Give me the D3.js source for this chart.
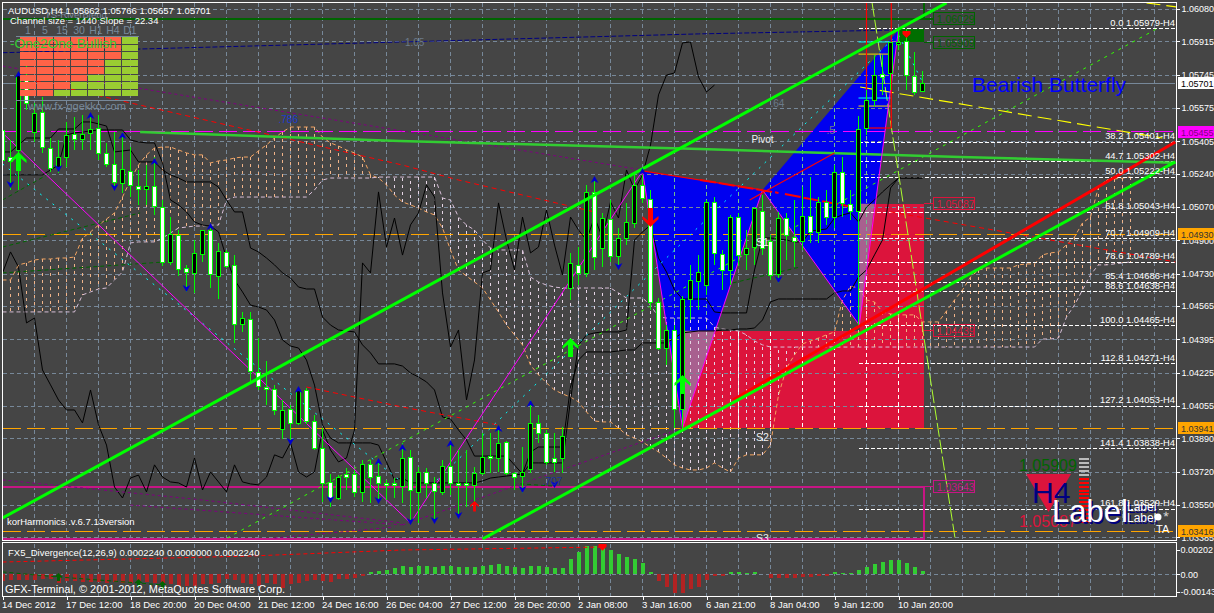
<!DOCTYPE html>
<html><head><meta charset="utf-8">
<script src="https://cdnjs.cloudflare.com/ajax/libs/d3/7.8.5/d3.min.js"></script>
<style>html,body{margin:0;padding:0;background:#454545;overflow:hidden}svg{display:block}text{font-family:"Liberation Sans",Arial,sans-serif}</style>
</head><body><svg id="c" width="1214" height="613"></svg>
<script>
// All prices below are in points above 1.00000 (5443 = 1.05443).
const opens=[5463,5325,5361,5718,5453,5555,5371,5274,5325,5443,5417,5448,5473,5346,5290,5193,5254,5177,5162,5177,5070,4790,4928,4759,4734,4831,4953,4718,4841,4775,4474,4499,4229,4152,4142,3938,4040,3969,4137,3979,3841,3668,3586,3709,3709,3617,3760,3698,3663,3663,3647,3795,3617,3719,3663,3617,3749,3663,3663,3653,3714,3800,3790,3872,3714,3698,3734,3969,3918,3790,3790,4657,4775,4734,5147,4861,5009,4820,4912,4989,5183,5111,4586,4351,4443,4040,4601,4693,4672,5096,4831,4749,5019,4831,4866,5050,4897,4729,5014,4917,4897,5024,4943,5096,5019,5249,5086,5050,5473,5616,5749,5754,5902,5917,5738,5662];
const highs=[5565,5412,5743,5794,5601,5631,5422,5412,5504,5529,5540,5540,5540,5397,5453,5453,5376,5259,5284,5325,5106,5019,4953,4775,4902,4953,4963,4887,4851,4826,4535,4535,4402,4285,4162,4086,4061,4152,4147,4010,3943,3709,3703,3739,3729,3780,3780,3780,3678,3688,3867,3831,3744,3739,3693,3780,3867,3831,3831,3744,3918,3918,3943,3877,3719,3846,4086,4010,3933,3918,3948,4836,4866,5183,5208,5040,5106,4963,5091,5234,5234,5157,4606,4468,4468,4616,4775,4826,5106,5121,4851,5030,5040,4953,5070,5131,4928,5045,5040,5106,5172,5223,5121,5157,5284,5325,5157,5534,5667,5845,5845,5912,5979,5979,5861,5766];
const lows=[5234,5157,5157,5565,5402,5346,5249,5244,5274,5361,5361,5361,5310,5274,5157,5142,5121,5081,5081,5030,4769,4775,4718,4637,4632,4790,4657,4601,4759,4377,4433,4173,4137,4061,4010,3887,3867,3959,3964,3831,3566,3540,3576,3627,3591,3566,3561,3561,3576,3586,3561,3454,3459,3586,3459,3601,3601,3489,3540,3561,3703,3714,3719,3703,3627,3612,3714,3867,3755,3719,3714,4596,4672,4713,4749,4764,4790,4759,4877,4963,5091,4545,4341,4264,3943,3943,4494,4545,4622,4775,4647,4672,4769,4749,4775,4826,4698,4683,4800,4764,4851,4887,4887,4979,4963,5019,5004,4468,5438,5580,5641,5667,5871,5667,5641,5657];
const closes=[5310,5305,5743,5601,5550,5376,5269,5325,5438,5417,5443,5468,5346,5290,5198,5264,5183,5162,5177,5075,4790,4933,4754,4739,4836,4953,4729,4846,4769,4474,4504,4234,4157,4142,4035,4035,3969,4137,3979,3841,3663,3586,3693,3693,3617,3760,3693,3663,3653,3653,3790,3627,3719,3663,3622,3749,3663,3653,3653,3714,3795,3790,3867,3714,3693,3719,3969,3918,3770,3770,3902,4785,4734,5147,4815,5014,4820,4912,4994,5183,5116,4586,4351,4443,4040,4601,4698,4739,5096,4836,4749,5019,4826,4861,5065,4861,4724,5014,4928,4897,5024,4943,5096,5019,5249,5091,5050,5468,5616,5743,5733,5912,5912,5743,5657,5701];
const histogram=[-54,-49,-49,-49,-44,-41,-41,-68,-54,-54,-60,-65,-65,-68,-60,-68,-68,-68,-60,-68,-68,-82,-95,-95,-95,-82,-82,-68,-41,-49,-68,-82,-95,-68,-82,-109,-82,-68,-54,-49,-54,-60,-41,-41,-27,-11,16,27,38,49,68,60,71,68,60,68,71,60,60,60,68,76,87,71,60,49,68,68,60,49,49,128,185,231,231,223,196,169,141,122,95,16,-54,-101,-155,-155,-122,-101,-46,-16,-11,19,19,11,19,5,-33,-27,-27,-27,-22,-22,-14,-14,19,8,8,33,60,87,101,117,117,92,60,27];
const senkouA=[4698,4698,4775,4785,4800,4805,4805,4810,4810,4815,4912,4943,4978,5009,5040,5121,5208,5284,5336,5371,5376,5376,5361,5346,5336,5336,5295,5305,5310,5320,5325,5325,5356,5387,5422,5453,5478,5478,5478,5478,5427,5397,5381,5361,5346,5325,5234,5218,5183,5131,5096,5081,5065,5045,5030,4963,4851,4749,4718,4688,4657,4596,4535,4468,4418,4367,4264,4214,4173,4137,4117,4101,4076,4025,3979,3974,3974,3943,3908,3892,3872,3846,3821,3790,3755,3739,3729,3729,3739,3765,3739,3719,3790,3806,3806,3806,3857,4111,4249,4316,4372,4387,4402,4418,4433,4596,4667,4657,4596,4586,4535,4525,4520,4520,4520,4484,4484,4484,4540,4596,4647,4713,4749,4759,4759,4759,4759,4775,4780,4780,4826,4836,4841,4877,4917,4989,5019,5172,5208,5213,5218,5223];
const senkouB=[4535,4535,4535,4535,4535,4535,4535,4535,4535,4535,4622,4637,4652,4657,4698,4739,4887,4892,4892,4892,4912,4938,4963,4968,4973,4973,4978,4978,5106,5121,5121,5121,5121,5121,5121,5121,5121,5121,5121,5157,5208,5218,5218,5218,5218,5218,5218,5223,5223,5223,5223,5223,5223,5223,5223,5116,5106,5019,4978,4953,4902,4861,4851,4851,4851,4851,4713,4688,4672,4662,4657,4657,4657,4657,4657,4657,4657,4632,4606,4606,4606,4570,4509,4504,4504,4504,4504,4504,4504,4458,4448,4443,4438,4418,4387,4367,4356,4356,4356,4356,4356,4356,4356,4356,4356,4356,4356,4356,4356,4356,4356,4356,4356,4356,4356,4356,4356,4356,4356,4356,4356,4356,4356,4356,4356,4356,4356,4356,4356,4356,4397,4397,4402,4509,4570,4647,4724,4775,4775,4780,4785,4790];
const laggingLine=[4734,4841,4764,4479,4504,4239,4163,4086,4035,4035,3969,4137,3959,3856,3642,3586,3688,3703,3617,3755,3693,3668,3663,3642,3790,3627,3719,3668,3617,3755,3668,3658,3653,3693,3806,3790,3867,3719,3693,3719,3933,3831,3770,3790,3933,4785,4734,5147,4866,5014,4825,4979,5040,5183,5121,4632,4356,4443,4086,4290,4734,4749,5091,4902,4749,5019,4836,4866,5055,4876,4724,5019,4953,4902,5019,4912,5096,5014,5259,5157,5234,5386,5642,5743,5754,5907,5912,5733,5657,5692];
const slowLine=[5351,5351,5387,5422,5422,5422,5422,5468,5468,5468,5504,5504,5494,5483,5351,5356,5361,5300,5300,5300,5259,5234,5218,5198,5198,5198,5198,5172,5106,5045,5045,4861,4841,4810,4775,4734,4708,4662,4652,4652,4509,4468,4443,4438,4433,4367,4326,4270,4270,4270,4259,4224,4203,4178,4137,3999,3989,3933,3882,3800,3800,3800,3800,3800,3754,3709,3821,3846,3846,3846,3846,4152,4290,4331,4331,4331,4331,4336,4341,4341,4377,4377,4377,4377,4402,4428,4433,4438,4438,4438,4443,4443,4448,4448,4453,4494,4586,4601,4601,4601,4601,4601,4601,4601,4632,4642,4642,4713,4749,4826,4902,5167,5218,5218,5218,5218];
const fastLine=[5234,5234,5234,5234,5234,5234,5259,5284,5438,5448,5453,5458,5463,5463,5463,5463,5412,5402,5397,5397,5295,5106,5081,5045,4994,4978,4973,4943,4810,4698,4637,4570,4560,4545,4494,4392,4361,4351,4290,4162,3958,3892,3867,3867,3867,3867,3867,3856,3770,3678,3688,3663,3663,3663,3663,3663,3663,3663,3663,3663,3673,3688,3693,3698,3703,3709,3765,3765,3765,3765,3765,4086,4367,4418,4428,4433,4433,4433,4443,4902,4943,4978,4810,4739,4647,4601,4601,4601,4601,4535,4530,4530,4530,4530,4749,4912,4912,4907,4902,4892,4892,4948,4953,4958,5014,5030,5040,4994,5070,5106,5147,5183,5218,5218,5218,5218];
const signalLine=[[0,100],[31,149],[50,198],[75,222]];
const subGreenLine=[[0,19],[7,-22],[17,-71],[20,-87]];
const priceTicks=[6080,5915,5745,5575,5405,5240,5070,4900,4730,4565,4395,4225,4055,3890,3720,3550,3385];
const subTicks=[202,0,-143];
const timeLabels=["14 Dec 2012","17 Dec 12:00","18 Dec 20:00","20 Dec 04:00","21 Dec 12:00","24 Dec 16:00","26 Dec 04:00","27 Dec 12:00","28 Dec 20:00","2 Jan 08:00","3 Jan 16:00","6 Jan 21:00","8 Jan 04:00","9 Jan 12:00","10 Jan 20:00"];
const fibLevels=[[0.0,5979],[38.2,5401],[44.7,5302],[50.0,5222],[61.8,5043],[70.7,4909],[78.6,4789],[85.4,4686],[88.6,4638],[100.0,4465],[112.8,4271],[127.2,4053],[141.4,3838],[161.8,3529]];
const upperChannel=[[0,3484],[118,6111]];
const lowerChannel=[[60,3377],[146.6,5300]];
const redChannel=[[91.3,4086],[146.6,5402]];
const maLine=[[17.2,5453],[49.7,5407],[87.2,5366],[119.7,5325],[146.6,5296]];
const navyLine=[[0,5857],[50,5912],[87,5953],[112,5973]];
const purpleLines=[[[0,5789],[80,5259]],[[0,3678],[25,3576],[50,3459]],[[16,3550],[50,3449]],[[34,3382],[49,3438]],[[50,3449],[85,3943]]];
const redDashed=[[[2,5733],[16,5601],[50,5284],[57,5208],[74,5045]],[[38,4152],[50,4050],[62,3958]],[[111,5045],[146.6,4790]]];
const zigzag=[[0,5448],[51,3459],[80,5254],[85,3943],[95,5157],[107.1,4468],[112,5973]];
const triangleABC=[[80,5254],[95,5157],[85,3943]];
const triangleCDE=[[95,5157],[112,5973],[107.1,4468]];
const zoneUpper=[107.2,115.2,5087,4439];
const zoneLower=[85.1,115.2,4439,3941];
const overlapA=[[85.1,4439],[89.1,4439],[85.1,3960]];
const overlapB=[[107.1,5087],[109,5087],[107.1,4468]];
const redSolid=[[[80,5254],[95,5157]],[[93.4,5106],[104,5346]],[[108,5473],[111.1,5473]],[[108,6111],[108,5473]],[[111.1,6111],[111.1,5473]]];
const redThick=[[[87.2,5208],[97,5142]],[[97.8,5136],[106.3,5070]]];
const yellowLines=[[[107.2,5682],[145,5422]],[[143,6111],[146.8,6090]]];
const yellowFlat=[[[107,5850],[111,5850]],[[107,5585],[111,5585]]];
const cyanFlat=[[[107,5912],[111,5912]],[[107,5626],[111,5626]]];
const slopeGreen=[[108.7,6111],[119.1,3372]];
const limeDotted=[[28.1,3382],[144.7,5988]];
const cyanLines=[[[0,5290],[51,3632]],[[54.3,3678],[111.8,5947]],[[112,5947],[115.2,5692]]];
const darkGreenDashed=[[[0,4734],[20.3,4790]],[[0,4866],[17.2,5040]],[[0,5106],[6,5244]],[[91.3,4683],[99.7,4764]],[[64.7,3658],[68.8,3647]]];
const fractalUp=[[2,5764],[11,5555],[15,5453],[19,5320],[26,4989],[37,4157],[47,3790],[50,3862],[56,3882],[62,3958],[66,4086],[74,5228],[80,5269]];
const fractalDown=[[1,5167],[7,5249],[14,5152],[23,4637],[36,3856],[41,3561],[47,3556],[51,3448],[54,3454],[57,3479],[65,3612],[69,3637],[77,4749],[97,4683]];
const bigUp=[[2,5351],[71,4402],[85,4213]];
const bigDown=[[81,4968]];
const smallUpRed=[[59,3571]];
const timeframes=["1","5","15","30","H1","H4","D1"];
const greenRows=[0,0,1,2,3,5,8];
const rowIds=[0,1,2,3,4,5,6,7];
const stackGrey=[0,1,2,3,4];
const stackRed=[0,1,2,3,4,5,6,7,8,9,10,11];

const svg=d3.select("#c");
const W=1214,H=613,L=3,R=1176,T=3,B=540;
const x=d3.scaleLinear().domain([0,1]).range([2.5,10.5]);
const y=d3.scaleLinear().domain([6080,3380]).range([9,538.4]);
const ys=d3.scaleLinear().domain([202,0]).range([549.5,574.3]);
const fmt=v=>(1+v/100000).toFixed(5);
const SL="#778899";

svg.append("rect").attr("width",W).attr("height",H).attr("fill","#454545");
const defs=svg.append("defs");
defs.append("clipPath").attr("id","main").append("rect").attr("x",L).attr("y",T).attr("width",R-L).attr("height",B-T);
defs.append("clipPath").attr("id","sub").append("rect").attr("x",L).attr("y",544).attr("width",R-L).attr("height",52);
const poly=p=>p.map(d=>x(d[0])+","+y(d[1])).join(" ");
defs.append("clipPath").attr("id","blue").selectAll("polygon").data([triangleABC,triangleCDE]).join("polygon").attr("points",poly);
const zoneRect=z=>({x:x(z[0]),y:y(z[2]),width:x(z[1])-x(z[0]),height:y(z[3])-y(z[2])});
const zc=defs.append("clipPath").attr("id","zones");
[zoneUpper,zoneLower].forEach(z=>{const r=zoneRect(z);zc.append("rect").attr("x",r.x).attr("y",r.y).attr("width",r.width).attr("height",r.height);});

const g=svg.append("g").attr("clip-path","url(#main)");
const crisp=s=>s.attr("shape-rendering","crispEdges");
const lineGen=d3.line().x(d=>x(d[0])).y(d=>y(d[1]));
function draw(pts,stroke,w,dash,parent){
  const p=(parent||g).append("path").attr("d",lineGen(pts)).attr("fill","none").attr("stroke",stroke).attr("stroke-width",w);
  if(dash)p.attr("stroke-dasharray",dash);
  return p;
}
const perBar=a=>a.map((v,i)=>[i,v]);

// fills
g.selectAll(".tri").data([triangleABC,triangleCDE]).join("polygon").attr("points",poly).attr("fill","#0000F0");
[zoneUpper,zoneLower].forEach(z=>{const r=zoneRect(z);crisp(g.append("rect")).attr("x",r.x).attr("y",r.y).attr("width",r.width).attr("height",r.height).attr("fill","#DC143C");});
g.selectAll(".ov").data([overlapA,overlapB]).join("polygon").attr("points",poly).attr("fill","#A8608F");

// grid
const gridBars=d3.range(0,150,4).filter(b=>x(b)>=L&&x(b)<R);
const hLines=g.append("g");
priceTicks.forEach(t=>crisp(hLines.append("line")).attr("x1",L).attr("x2",R).attr("y1",Math.round(y(t))+.5).attr("y2",Math.round(y(t))+.5).attr("stroke",SL).attr("stroke-dasharray","4 3"));
gridBars.forEach(b=>crisp(hLines.append("line")).attr("x1",x(b)).attr("x2",x(b)).attr("y1",T).attr("y2",B).attr("stroke",SL).attr("stroke-dasharray","4 3"));
const ovZ=g.append("g").attr("clip-path","url(#zones)");
gridBars.forEach(b=>crisp(ovZ.append("line")).attr("x1",x(b)).attr("x2",x(b)).attr("y1",T).attr("y2",B).attr("stroke","#fff").attr("stroke-dasharray","4 3"));
const ovB=g.append("g").attr("clip-path","url(#blue)");
gridBars.forEach(b=>crisp(ovB.append("line")).attr("x1",x(b)).attr("x2",x(b)).attr("y1",T).attr("y2",B).attr("stroke","#6fbf8f").attr("stroke-dasharray","4 3"));

// cloud
const cloud=g.append("g");
senkouA.forEach((a,i)=>{
  const b=senkouB[i];
  crisp(cloud.append("line")).attr("x1",x(i)).attr("x2",x(i)).attr("y1",y(a)).attr("y2",y(b)).attr("stroke",a>=b?"#F0B48A":"#E4D4E4").attr("stroke-dasharray","3 4");
});
draw(perBar(senkouA),"#F4A460",1,"4 3",cloud);
draw(perBar(senkouB),"#D8BFD8",1,"4 3",cloud);

// level lines
draw([[0,5701],[146.6,5701]],"#778899",1).attr("shape-rendering","crispEdges");
const pink="#C71585";
draw([[0,3643],[115.2,3643],[115.2,3379],[0,3379]],pink,2).attr("shape-rendering","crispEdges");
draw([[115.2,3643],[116.4,3643]],pink,1).attr("shape-rendering","crispEdges");
draw([[115.2,5087],[116.4,5087]],"#DC143C",1).attr("shape-rendering","crispEdges");
draw([[115.2,4439],[116.4,4439]],"#DC143C",1).attr("shape-rendering","crispEdges");
draw([[115.2,5909],[116.4,5909]],"#006400",1).attr("shape-rendering","crispEdges");
draw([[0,6029],[116.4,6029]],"#006400",2).attr("shape-rendering","crispEdges");
draw([[115.2,6111],[115.2,6029]],"#006400",2).attr("shape-rendering","crispEdges");
const gz=zoneRect([112.2,115.2,5979,5912]);
crisp(g.append("rect")).attr("x",gz.x).attr("y",gz.y).attr("width",gz.width).attr("height",gz.height).attr("fill","#006E00");
draw([[0,5455],[146.6,5455]],"#FF00FF",1.5,"18 6").attr("shape-rendering","crispEdges");
[4930,3941,3416].forEach(v=>draw([[0,v],[146.6,v]],"#FFA500",1.5,"18 6").attr("shape-rendering","crispEdges"));
fibLevels.forEach(f=>draw([[107.1,f[1]],[146.6,f[1]]],"#FFFFFF",1,"4 2").attr("shape-rendering","crispEdges"));

// ichimoku lines
draw(perBar(laggingLine),"#000",1);
draw(perBar(slowLine),"#000",1);
draw(perBar(fastLine),"#000",1);

// dashed studies
purpleLines.forEach(p=>draw(p,"#800080",1,"3 3"));
draw(navyLine,"#000080",1,"5 2");
redDashed.forEach(p=>draw(p,"#FF0000",1,"5 4"));
darkGreenDashed.forEach(p=>draw(p,"#006400",1,"4 3"));
cyanLines.forEach(p=>draw(p,"#00FFFF",1,"2 6"));
draw(limeDotted,"#32FF00",1,"3 5");
draw(slopeGreen,"#ADFF2F",1,"14 3");
yellowLines.forEach(p=>draw(p,"#FFFF00",1.1,"14 6"));
yellowFlat.forEach(p=>draw(p,"#FFD700",1));
cyanFlat.forEach(p=>draw(p,"#00FFFF",1));
draw(maLine,"#32CD32",2.5);
draw(zigzag,"#FF00FF",1);
redSolid.forEach(p=>draw(p,"#FF0000",1.2));
redThick.forEach(p=>draw(p,"#FF0000",2,"16 3"));

// candles
const candles=g.append("g");
opens.forEach((o,i)=>{
  const c=closes[i],t=Math.round(y(Math.max(o,c)))+.5,b=Math.round(y(Math.min(o,c)))+.5;
  crisp(candles.append("line")).attr("x1",x(i)).attr("x2",x(i)).attr("y1",y(highs[i])).attr("y2",y(lows[i])).attr("stroke","#00FF00");
  crisp(candles.append("rect")).attr("x",x(i)-2).attr("y",t).attr("width",4).attr("height",Math.max(b-t,1)).attr("fill",c>o?"#000":"#fff").attr("stroke","#00FF00");
});

// channels on top
draw(upperChannel,"#00FF00",3);
draw(redChannel,"#FF0000",3);
draw(lowerChannel,"#00FF00",3);

// arrows
fractalUp.forEach(d=>g.append("path").attr("d","M0,-3 L4,4 L0,2 L-4,4 Z").attr("transform",`translate(${x(d[0])},${y(d[1])+3})`).attr("fill","#0000CD"));
fractalDown.forEach(d=>g.append("path").attr("d","M0,3 L4,-4 L0,-2 L-4,-4 Z").attr("transform",`translate(${x(d[0])},${y(d[1])-3})`).attr("fill","#0000CD"));
const bigArrow=(d,col,dir,s)=>{
  const a=g.append("g").attr("transform",`translate(${x(d[0])},${y(d[1])}) scale(1,${dir}) scale(${s})`);
  a.append("path").attr("d","M0,0 L8,8 L8,11 L2.5,6.5 L2.5,19 L-2.5,19 L-2.5,6.5 L-8,11 L-8,8 Z").attr("fill",col);
};
bigUp.forEach(d=>bigArrow(d,"#00FF00",1,1));
bigDown.forEach(d=>bigArrow(d,"#FF0000",-1,1));
smallUpRed.forEach(d=>bigArrow(d,"#FF0000",1,.55));
g.append("path").attr("d","M-4,-3 L4,-3 L4,0 L0,4 L-4,0 Z").attr("transform",`translate(${x(113)},${y(5953)})`).attr("fill","#FF0000");

// annotations
const lab=(bar,p,s,col,size,anchor)=>g.append("text").attr("x",x(bar)).attr("y",y(p)).text(s).attr("fill",col).attr("font-size",size).attr("text-anchor",anchor||"middle");
lab(95,5397,"Pivot","#f0f0f0",10);
lab(95,4871,"S1","#f0f0f0",10.5);
lab(95,3877,"S2","#f0f0f0",10.5);
lab(95,3362,"S3","#f0f0f0",10.5);
lab(50.3,5890,"1.05","#6b7a8a",10,"start");
lab(34.5,5500,".786","#1a3ad0",10,"start");
lab(67.5,3650,".707","#1a2fa0",10,"start");
lab(96,5580,".64","#6b7a8a",10,"start");
lab(103,5445,".5","#6b7a8a",10,"start");
fibLevels.forEach(f=>{
  g.append("text").attr("x",R-1).attr("y",y(f[1])-3).attr("text-anchor","end").attr("fill","#fff").attr("font-size",9.4).text(`${f[0].toFixed(1)} ${fmt(f[1])}-H4`);
});
const zoneLabels=[[6029,"1.06029","#006400"],[5909,"1.05909","#006400"],[5087,"1.05087","#DC143C"],[4439,"1.04439","#DC143C"],[3643,"1.03643","#C71585"]];
zoneLabels.forEach(d=>{
  crisp(g.append("rect")).attr("x",x(116.4)).attr("y",y(d[0])-6).attr("width",41).attr("height",12).attr("fill","none").attr("stroke",d[2]);
  g.append("text").attr("x",x(116.4)+3).attr("y",y(d[0])+4.5).attr("fill",d[2]).attr("font-size",10.5).text(d[1]);
});
g.append("text").attr("x",972).attr("y",y(5692)+7).attr("fill","#0000FF").attr("font-size",21).text("Bearish Butterfly");

// widget at lower right
const wx=d3.scaleLinear().domain([0,1]).range([1026,1071]);
const wy=d3.scaleLinear().domain([0,1]).range([474,512]);
g.append("text").attr("x",1019).attr("y",471).attr("fill","#006400").attr("font-size",16).text("1.05909");
g.append("path").attr("d",`M${wx(0)},${wy(0)} L${wx(1)},${wy(0)} L${wx(.5)},${wy(1)} Z`).attr("fill","#DC143C");
g.append("text").attr("x",1032).attr("y",503).attr("fill","#000080").attr("font-size",30).text("H4");
g.append("text").attr("x",1019).attr("y",527).attr("fill","#DC143C").attr("font-size",16).text("1.05087");
const st=d3.scaleBand().domain(d3.range(17)).range([458,525]);
stackGrey.forEach(i=>crisp(g.append("rect")).attr("x",1079).attr("y",st(i)).attr("width",10).attr("height",2).attr("fill","#bbb"));
stackRed.forEach(i=>crisp(g.append("rect")).attr("x",1079).attr("y",st(i+5)).attr("width",10).attr("height",2).attr("fill","#f00"));
const shadowText=(xx,yy,s,size)=>{
  g.append("text").attr("x",xx+1.5).attr("y",yy+1.5).attr("fill","#000080").attr("font-size",size).text(s);
  g.append("text").attr("x",xx).attr("y",yy).attr("fill","#fff").attr("font-size",size).text(s);
};
shadowText(1052,522,"Label",31);
shadowText(1127,511,"Label",12);
shadowText(1127,522,"Label",12);
g.append("circle").attr("cx",1158).attr("cy",517).attr("r",3.5).attr("fill","#fff");
g.append("text").attr("x",1163).attr("y",514).attr("fill","#ddd").attr("font-size",11).text("⁎");
g.append("text").attr("x",1156).attr("y",533).attr("fill","#fff").attr("font-size",11).text("TA");

// top-left matrix
const tfx=d3.scaleBand().domain(timeframes).range([20,138]).paddingInner(.06);
const tfy=d3.scaleBand().domain(rowIds).range([37,97]);
const mat=svg.append("g");
timeframes.forEach((t,c)=>rowIds.forEach(r=>{
  crisp(mat.append("rect")).attr("x",tfx(t)).attr("y",tfy(r)).attr("width",tfx.bandwidth()).attr("height",tfy.bandwidth()-1)
   .attr("fill",r>=8-greenRows[c]?"#9ACD32":"#FF6347");
}));
timeframes.forEach(t=>mat.append("text").attr("x",tfx(t)+tfx.bandwidth()/2).attr("y",34).attr("text-anchor","middle").attr("fill",SL).attr("font-size",10.5).text(t));
[36,100].forEach(v=>crisp(mat.append("line")).attr("x1",16).attr("x2",139).attr("y1",v+.5).attr("y2",v+.5).attr("stroke",SL));
mat.append("text").attr("x",45).attr("y",18).attr("fill",SL).attr("font-size",9.5).text("TS-RiverBlend");
mat.append("text").attr("x",10).attr("y",48).attr("fill","#32CD32").attr("font-size",13.5).text("-One2One Bullish");
mat.append("text").attr("x",28).attr("y",110).attr("fill",SL).attr("font-size",11).text("www.fx-ggekko.com");

// sub window
const sub=svg.append("g").attr("clip-path","url(#sub)");
gridBars.forEach(b=>crisp(sub.append("line")).attr("x1",x(b)).attr("x2",x(b)).attr("y1",544).attr("y2",596).attr("stroke",SL).attr("stroke-dasharray","4 3"));
crisp(sub.append("line")).attr("x1",L).attr("x2",R).attr("y1",574.5).attr("y2",574.5).attr("stroke",SL).attr("stroke-dasharray","4 3");
histogram.forEach((v,i)=>{
  crisp(sub.append("rect")).attr("x",x(i)-1.5).attr("width",4).attr("y",Math.min(ys(0),ys(v))).attr("height",Math.abs(ys(v)-ys(0))).attr("fill",v>=0?"#32CD32":"#B22222");
});
const subLine=d3.line().x(d=>x(d[0])).y(d=>ys(d[1]));
sub.append("path").attr("d",subLine(signalLine)).attr("fill","none").attr("stroke","#FF0000").attr("stroke-dasharray","4 3");
sub.append("path").attr("d",subLine(subGreenLine)).attr("fill","none").attr("stroke","#006400").attr("stroke-dasharray","4 3");
[7,17,20].forEach((b,i)=>sub.append("path").attr("d","M0,-4 L4,0 L1.5,0 L1.5,4 L-1.5,4 L-1.5,0 L-4,0 Z").attr("transform",`translate(${x(b)},${ys(subGreenLine[i+1][1])})`).attr("fill","#006400"));
sub.append("path").attr("d","M-4,-3 L4,-3 L4,0 L0,4 L-4,0 Z").attr("transform",`translate(${x(75)},${ys(225)})`).attr("fill","#FF0000");

// axes
const axisR=d3.axisRight(y).tickValues(priceTicks).tickFormat(fmt).tickSize(3).tickPadding(2);
const ay=svg.append("g").attr("transform",`translate(${R+.5},0)`).call(axisR);
const axisS=d3.axisRight(ys).tickValues(subTicks).tickFormat(v=>v===0?"0.00":(v/100000).toFixed(5)).tickSize(3).tickPadding(1);
const az=svg.append("g").attr("transform",`translate(${R+.5},0)`).call(axisS);
const xTicks=timeLabels.map((_,i)=>i*8);
const axisB=d3.axisBottom(x).tickValues(xTicks).tickFormat((d,i)=>timeLabels[i]).tickSize(3).tickPadding(2);
const ax=svg.append("g").attr("transform","translate(0,596.5)").call(axisB);
[ay,az,ax].forEach(a=>{
  a.selectAll(".domain").remove();
  a.selectAll("line").attr("stroke","#fff").attr("shape-rendering","crispEdges");
  a.selectAll("text").attr("fill","#fff").attr("font-size",9).attr("font-family",'"Liberation Sans",Arial,sans-serif');
});
ax.selectAll("text").attr("text-anchor","start").attr("dx",-1).attr("font-size",9.5);

// frame
const frame=(x0,y0,x1,y1)=>crisp(svg.append("rect")).attr("x",x0+.5).attr("y",y0+.5).attr("width",x1-x0).attr("height",y1-y0).attr("fill","none").attr("stroke","#fff");
frame(2,2,1176,540);
frame(2,542,1176,596);

// right price boxes
const boxes=[[5701,"#FFFFFF","#000"],[5455,"#FF00FF","#800080"],[4930,"#FFA500","#333"],[3941,"#FFA500","#333"],[3416,"#FFA500","#333"]];
boxes.forEach(d=>{
  const yy=y(d[0]);
  crisp(svg.append("rect")).attr("x",1178).attr("y",yy-6).attr("width",36).attr("height",12).attr("fill",d[1]);
  svg.append("text").attr("x",1181).attr("y",yy+4).attr("fill",d[2]).attr("font-size",9).text(fmt(d[0]));
});

// header text
const hdr=(xx,yy,s,size,col)=>svg.append("text").attr("x",xx).attr("y",yy).attr("fill",col||"#fff").attr("font-size",size).text(s);
hdr(8,14,"AUDUSD,H4  1.05662 1.05766 1.05657 1.05701",9.5);
hdr(10,24,"Channel size = 1440 Slope = 22.34",9.5);
hdr(7,525,"korHarmonics .v.6.7.13version",9.5);
hdr(8,556,"FX5_Divergence(12,26,9) 0.0002240 0.0000000 0.0002240",9.5);
hdr(5,593,"GFX-Terminal, © 2001-2012, MetaQuotes Software Corp.",11);
</script></body></html>
